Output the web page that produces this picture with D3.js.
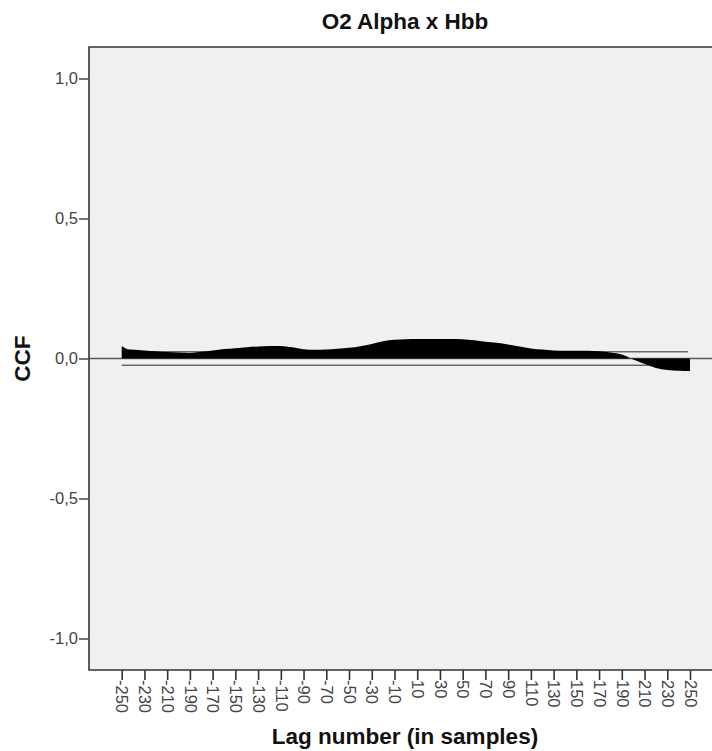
<!DOCTYPE html>
<html>
<head>
<meta charset="utf-8">
<script src="https://cdn.jsdelivr.net/npm/d3@7"></script>
<style>
  html, body { margin: 0; padding: 0; background: #ffffff; }
  svg { display: block; font-family: "Liberation Sans", Arial, Helvetica, sans-serif; }
</style>
</head>
<body>
<svg id="chart" width="712" height="751"></svg>
<script>
// Cross-correlation coefficients by lag
const lags = [-250, -243, -235, -230, -220, -210, -200, -190, -180, -170, -160, -150, -140, -130, -120,
  -110, -100, -90, -80, -70, -60, -50, -40, -30, -20, -10, 0, 10, 20, 30, 40, 50, 60, 70, 80, 90,
  100, 110, 120, 130, 140, 150, 160, 170, 180, 190, 200, 210, 220, 230, 240, 250];
const ccf = [0.044, 0.032, 0.030, 0.029, 0.026, 0.023, 0.021, 0.020, 0.024, 0.029, 0.034, 0.037, 0.040, 0.043, 0.045,
  0.045, 0.040, 0.033, 0.031, 0.032, 0.035, 0.038, 0.044, 0.052, 0.062, 0.067, 0.069, 0.070, 0.070, 0.070, 0.070, 0.069, 0.065, 0.060, 0.056, 0.050,
  0.043, 0.036, 0.032, 0.029, 0.028, 0.028, 0.028, 0.026, 0.021, 0.014, -0.004, -0.020, -0.034, -0.041, -0.044, -0.045];

// Confidence limits
const upperLimit = 0.024;
const lowerLimit = -0.024;

const xTicks = d3.range(-250, 251, 20);
const yTicks = [-1.0, -0.5, 0.0, 0.5, 1.0];

const titleText = "O2 Alpha x Hbb";
const xTitle = "Lag number (in samples)";
const yTitle = "CCF";

const svg = d3.select("#chart");
const plot = { left: 89, top: 47, right: 714, bottom: 670 };

const x = d3.scaleLinear().domain([-250, 250]).range([121.7, 690]);
const y = d3.scaleLinear().domain([-1.1125, 1.1125]).range([plot.bottom, plot.top]);

// Plot background
svg.append("rect")
  .attr("x", plot.left).attr("y", plot.top)
  .attr("width", plot.right - plot.left).attr("height", plot.bottom - plot.top)
  .attr("fill", "#f0f0f0");

// Confidence limit lines
[upperLimit, lowerLimit].forEach(v => {
  svg.append("line")
    .attr("x1", x(-250)).attr("x2", x(250) - 2)
    .attr("y1", y(v)).attr("y2", y(v))
    .attr("stroke", "#6a6a6a").attr("stroke-width", 1.6);
});

// Zero reference line
svg.append("line")
  .attr("x1", plot.left).attr("x2", plot.right)
  .attr("y1", y(0)).attr("y2", y(0))
  .attr("stroke", "#5a5a5a").attr("stroke-width", 1.6);

// CCF bars, drawn as a filled profile
const data = lags.map((l, i) => ({ lag: l, v: ccf[i] }));
const area = d3.area()
  .x(d => x(d.lag))
  .y0(y(0))
  .y1(d => y(d.v))
  .curve(d3.curveMonotoneX);
svg.append("path")
  .datum(data)
  .attr("d", area)
  .attr("fill", "#000000");

// Frame (left, top, bottom)
svg.append("path")
  .attr("d", `M${plot.right},${plot.top}H${plot.left}V${plot.bottom}H${plot.right}`)
  .attr("fill", "none")
  .attr("stroke", "#333333")
  .attr("stroke-width", 1.6);

// Y axis
const yAxis = svg.append("g")
  .attr("transform", `translate(${plot.left},0)`)
  .call(d3.axisLeft(y).tickValues(yTicks).tickSize(10).tickPadding(1)
    .tickFormat(d => d3.format(".1f")(d).replace(".", ",").replace("−", "-")));
yAxis.select(".domain").remove();
yAxis.selectAll(".tick line").attr("stroke", "#555555").attr("stroke-width", 1.6);
yAxis.selectAll(".tick text")
  .attr("fill", "#444444")
  .style("font-size", "16.5px");

// X axis
const xAxis = svg.append("g")
  .attr("transform", `translate(0,${plot.bottom})`)
  .call(d3.axisBottom(x).tickValues(xTicks).tickSize(10).tickFormat(d => String(d)));
xAxis.select(".domain").remove();
xAxis.selectAll(".tick line").attr("stroke", "#333333").attr("stroke-width", 1.6);
xAxis.selectAll(".tick text")
  .attr("fill", "#444444")
  .style("font-size", "16.5px")
  .attr("transform", "rotate(90)")
  .attr("x", 10)
  .attr("y", 0)
  .attr("dy", "0.35em")
  .attr("text-anchor", "start");

// Titles
svg.append("text")
  .attr("x", 405).attr("y", 29)
  .attr("text-anchor", "middle")
  .attr("font-weight", "bold")
  .attr("font-size", 22.5)
  .attr("fill", "#111111")
  .text(titleText);

svg.append("text")
  .attr("x", 405).attr("y", 744)
  .attr("text-anchor", "middle")
  .attr("font-weight", "bold")
  .attr("font-size", 22.5)
  .attr("fill", "#111111")
  .text(xTitle);

svg.append("text")
  .attr("transform", `translate(30,${y(0)}) rotate(-90)`)
  .attr("text-anchor", "middle")
  .attr("font-weight", "bold")
  .attr("font-size", 22.5)
  .attr("fill", "#111111")
  .text(yTitle);
</script>
</body>
</html>
